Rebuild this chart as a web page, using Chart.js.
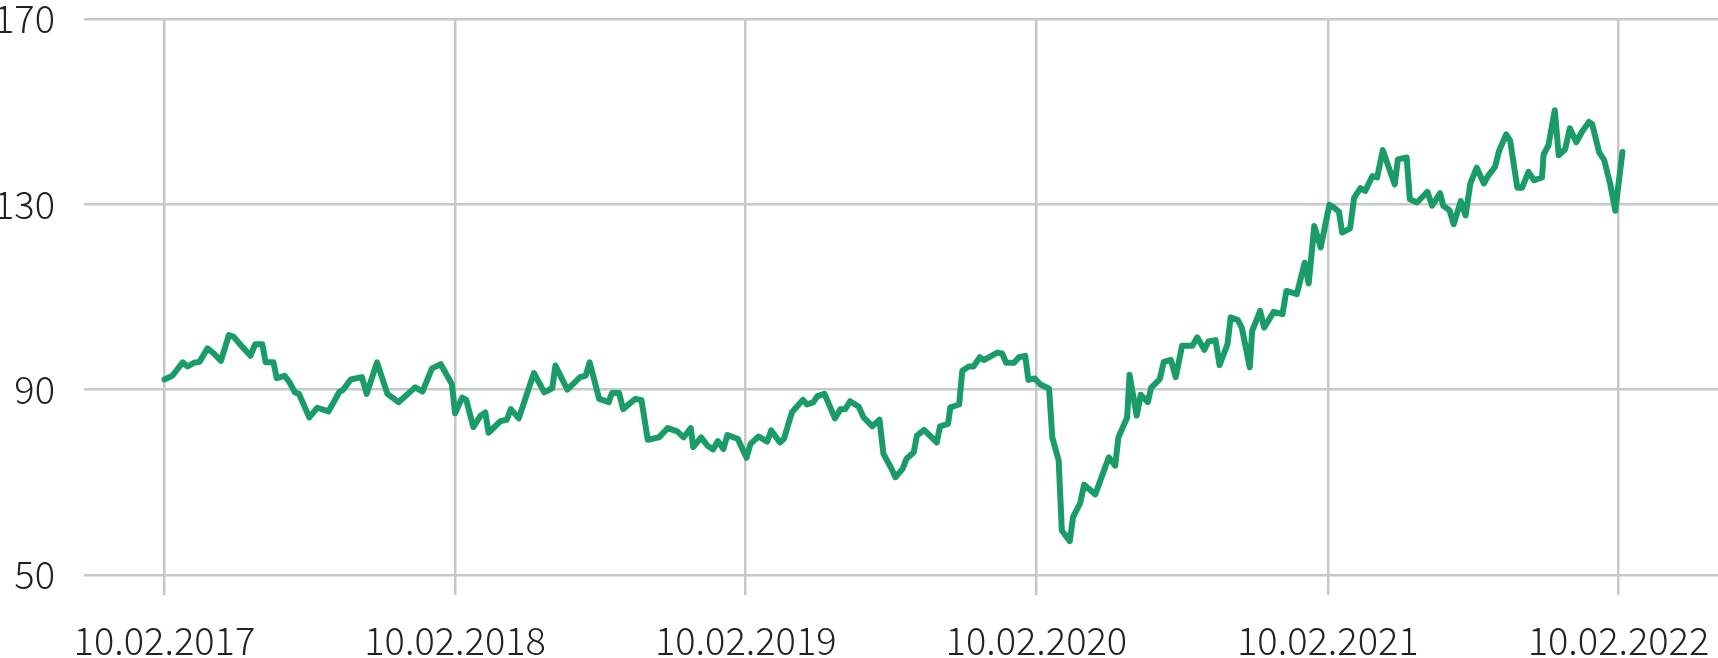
<!DOCTYPE html>
<html>
<head>
<meta charset="utf-8">
<script src="https://cdn.jsdelivr.net/npm/chart.js@4.4.1/dist/chart.umd.min.js"></script>
<style>
  html, body { margin: 0; padding: 0; background: #fff; }
  #wrap { width: 1718px; height: 658px; }
</style>
</head>
<body>
<div id="wrap"><canvas id="priceChart" width="1718" height="658"></canvas></div>
<script>
// x = days since 10.02.2017
const days = [
  0, 10, 23, 29, 37, 44, 54, 62, 71, 81, 87, 95, 108, 114, 123, 127, 137, 141, 151, 157,
  164, 169, 182, 192, 206, 220, 224, 234, 248, 254, 267, 280, 294, 315, 324, 336, 347, 361, 365, 374,
  379, 388, 397, 403, 407, 422, 430, 435, 445, 464, 477, 487, 491, 506, 522, 529, 534, 546, 558, 562,
  571, 576, 591, 599, 607, 621, 632, 644, 652, 661, 664, 674, 682, 689, 695, 702, 707, 720, 731, 736,
  746, 757, 762, 773, 778, 788, 802, 807, 815, 820, 829, 842, 849, 855, 861, 872, 878, 889, 898, 903,
  912, 918, 927, 932, 941, 945, 954, 970, 974, 984, 987, 998, 1002, 1010, 1016, 1024, 1029, 1046, 1052, 1057,
  1067, 1073, 1081, 1085, 1093, 1100, 1111, 1115, 1123, 1127, 1137, 1141, 1150, 1155, 1169, 1186, 1194, 1198, 1209, 1212,
  1221, 1226, 1235, 1239, 1250, 1255, 1264, 1270, 1278, 1291, 1297, 1306, 1311, 1320, 1325, 1335, 1339, 1348, 1353, 1363,
  1366, 1376, 1381, 1393, 1404, 1409, 1422, 1432, 1437, 1444, 1452, 1463, 1468, 1475, 1479, 1489, 1494, 1502, 1508, 1517,
  1523, 1530, 1545, 1549, 1560, 1564, 1573, 1586, 1592, 1602, 1606, 1614, 1619, 1628, 1634, 1640, 1648, 1657, 1662, 1671,
  1676, 1685, 1690, 1699, 1705, 1713, 1720, 1730, 1732, 1738, 1746, 1751, 1759, 1765, 1773, 1780, 1789, 1793, 1802, 1808,
  1816, 1822, 1831
];

const values = [
  92.2, 93.0, 95.9, 95.0, 95.8, 96.0, 98.9, 97.8, 96.2, 101.8, 101.4, 99.8, 97.3, 99.8, 99.8, 95.9, 95.9, 92.5, 93.0, 91.6,
  89.4, 89.1, 84.0, 86.1, 85.3, 89.6, 89.9, 92.2, 92.7, 89.1, 95.9, 89.1, 87.3, 90.5, 89.6, 94.6, 95.5, 91.2, 84.9, 88.3,
  87.8, 81.9, 84.4, 85.1, 80.7, 83.2, 83.5, 85.8, 83.8, 93.6, 89.4, 90.3, 95.2, 90.0, 92.7, 93.0, 95.9, 88.0, 87.3, 89.3,
  89.3, 85.8, 88.0, 87.8, 79.2, 79.7, 81.7, 81.0, 79.7, 81.7, 77.6, 79.7, 77.9, 77.1, 78.9, 77.2, 80.2, 79.4, 75.3, 78.3,
  79.9, 78.8, 81.2, 78.6, 79.4, 85.1, 87.8, 86.8, 87.3, 88.6, 89.1, 83.8, 85.8, 85.8, 87.5, 86.3, 84.0, 82.1, 83.5, 76.1,
  73.3, 71.1, 72.9, 75.1, 76.5, 80.1, 81.3, 78.6, 82.1, 82.6, 86.2, 86.8, 94.1, 95.0, 95.0, 97.0, 96.4, 98.0, 97.8, 95.8,
  95.8, 97.0, 97.3, 92.1, 92.4, 91.1, 90.2, 79.7, 74.7, 59.6, 57.3, 62.5, 65.5, 69.5, 67.4, 75.4, 73.6, 79.7, 84.0, 93.2,
  84.4, 88.9, 87.3, 90.4, 92.3, 96.0, 96.4, 92.7, 99.5, 99.5, 101.3, 98.6, 100.4, 100.7, 95.3, 99.8, 105.6, 105.0, 103.4, 94.8,
  102.7, 107.0, 103.4, 106.8, 106.3, 111.3, 110.6, 117.4, 112.9, 125.3, 120.7, 129.9, 129.4, 128.4, 123.9, 124.8, 131.4, 133.5, 132.9, 136.1,
  135.8, 141.7, 134.3, 139.7, 140.1, 131.1, 130.4, 132.7, 129.7, 132.4, 129.7, 128.7, 125.7, 130.7, 127.6, 134.5, 137.9, 134.5, 136.1, 138.1,
  141.5, 145.1, 143.7, 133.6, 133.6, 137.0, 135.2, 135.8, 140.8, 142.7, 150.3, 140.6, 141.9, 146.4, 143.4, 145.6, 147.8, 147.3, 141.1, 139.6,
  134.1, 128.6, 141.3
];

const tickDays = [0, 365, 730, 1095, 1461, 1826];
const tickLabels = ['10.02.2017', '10.02.2018', '10.02.2019', '10.02.2020', '10.02.2021', '10.02.2022'];
const yTicks = [50, 90, 130, 170];

const tickFont = { family: "'Noto Sans CJK SC', 'Noto Sans', sans-serif", size: 38, weight: 300, lineHeight: 1 };
const gridColor = '#c8c8c8';

const ctx = document.getElementById('priceChart').getContext('2d');

new Chart(ctx, {
  type: 'line',
  data: {
    datasets: [{
      data: days.map((d, i) => ({ x: d, y: values[i] })),
      borderColor: '#1a9c69',
      borderWidth: 6,
      borderJoinStyle: 'round',
      borderCapStyle: 'round',
      pointRadius: 0,
      tension: 0,
      fill: false
    }]
  },
  options: {
    responsive: false,
    animation: false,
    layout: { padding: { top: 19, right: 0, bottom: 0, left: 0 } },
    plugins: {
      legend: { display: false },
      tooltip: { enabled: false }
    },
    scales: {
      x: {
        type: 'linear',
        min: -101,
        max: 1951,
        afterBuildTicks: scale => { scale.ticks = tickDays.map(v => ({ value: v })); },
        afterFit: scale => {
          scale.height = 83;
          scale.paddingLeft = 0;
          scale.paddingRight = 0;
        },
        grid: { color: gridColor, lineWidth: 2.5, drawTicks: true, tickLength: 20 },
        border: { display: false },
        ticks: {
          font: tickFont,
          color: '#222',
          padding: 27,
          maxRotation: 0,
          autoSkip: false,
          callback: value => tickLabels[tickDays.indexOf(value)]
        }
      },
      y: {
        min: 50,
        max: 170,
        afterBuildTicks: scale => { scale.ticks = yTicks.map(v => ({ value: v })); },
        afterFit: scale => {
          scale.width = 84;
          scale.paddingTop = 0;
          scale.paddingBottom = 0;
        },
        grid: { color: gridColor, lineWidth: 2.5, drawTicks: false },
        border: { display: false },
        ticks: {
          font: tickFont,
          color: '#222',
          padding: 29
        }
      }
    }
  }
});
</script>
</body>
</html>
